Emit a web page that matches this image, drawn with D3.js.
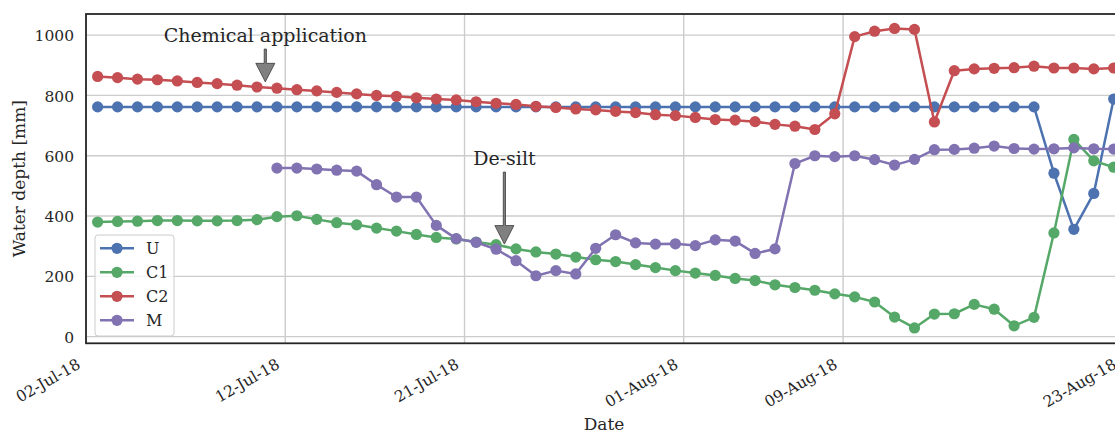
<!DOCTYPE html>
<html>
<head>
<meta charset="utf-8">
<script src="https://cdn.jsdelivr.net/npm/d3@7"></script>
<style>
  body { margin: 0; background: #fff; }
  svg { display: block; font-family: "DejaVu Serif", serif; }
</style>
</head>
<body>
<div id="chart-area"></div>
<script>
// daily readings, taken around 14:00
const dates = [
  "2018-07-02","2018-07-03","2018-07-04","2018-07-05","2018-07-06","2018-07-07","2018-07-08",
  "2018-07-09","2018-07-10","2018-07-11","2018-07-12","2018-07-13","2018-07-14","2018-07-15",
  "2018-07-16","2018-07-17","2018-07-18","2018-07-19","2018-07-20","2018-07-21","2018-07-22",
  "2018-07-23","2018-07-24","2018-07-25","2018-07-26","2018-07-27","2018-07-28","2018-07-29",
  "2018-07-30","2018-07-31","2018-08-01","2018-08-02","2018-08-03","2018-08-04","2018-08-05",
  "2018-08-06","2018-08-07","2018-08-08","2018-08-09","2018-08-10","2018-08-11","2018-08-12",
  "2018-08-13","2018-08-14","2018-08-15","2018-08-16","2018-08-17","2018-08-18","2018-08-19",
  "2018-08-20","2018-08-21","2018-08-22"
];

const seriesNames = ["U", "C1", "C2", "M"];

const depthU = [
  762,762,762,762,762,762,762,762,762,762,762,762,762,762,762,762,762,762,762,762,
  762,762,762,762,762,762,762,762,762,762,762,762,762,762,762,762,762,762,762,762,
  762,762,762,762,762,762,762,762,542,356,475,788
];

const depthC1 = [
  380,382,383,385,385,384,384,385,388,398,401,389,378,371,360,350,339,329,324,314,
  305,291,281,274,264,255,249,239,229,219,211,203,193,186,172,163,154,142,132,115,
  65,29,75,76,107,91,36,64,344,654,583,562
];

const depthC2 = [
  863,859,854,852,848,843,839,834,828,824,819,815,810,805,800,797,792,788,785,779,
  774,770,764,760,755,752,747,743,736,733,727,720,718,713,704,698,687,739,995,1013,
  1022,1019,712,882,888,890,892,897,891,891,888,891
];

const depthM = [
  null,null,null,null,null,null,null,null,null,559,559,556,552,549,504,463,463,369,325,313,
  290,252,202,219,208,293,338,311,307,308,302,321,317,276,291,574,600,597,600,587,
  569,588,620,621,625,632,624,622,623,626,623,622
];

const xTickDates = ["2018-07-02","2018-07-12","2018-07-21","2018-08-01","2018-08-09","2018-08-23"];
const yTickValues = [0, 200, 400, 600, 800, 1000];

const noteLabels = ["Chemical application", "De-silt"];
const noteDates = ["2018-07-11", "2018-07-23"];
const noteTips = [845, 307];
const noteTextAt = [978, 570];

const colors = ["#4c72b0", "#55a868", "#c44e52", "#8172b2"];

let margin = { left: 86, top: 14 };
let svgW = 1115;
let svgH = 433;
let chartW = 1122 - margin.left;   // axes run a little past the window edge
let chartH = 343.3 - margin.top;

const parseDay = d3.timeParse("%Y-%m-%d");
const readTime = (s) => d3.timeHour.offset(parseDay(s), 14);

const x = d3.scaleTime()
  .domain([parseDay("2018-07-02"), parseDay("2018-08-23")])
  .range([0, chartW]);

const y = d3.scaleLinear()
  .domain([-22, 1070])
  .range([chartH, 0]);

const series = [depthU, depthC1, depthC2, depthM].map((vals, k) => ({
  name: seriesNames[k],
  color: colors[k],
  values: vals.map((v, i) => ({ date: readTime(dates[i]), v: v }))
}));

let svg = d3.select("#chart-area")
  .append("svg")
  .attr("width", svgW)
  .attr("height", svgH);

svg.append("defs").append("clipPath")
  .attr("id", "plot-clip")
  .append("rect")
  .attr("width", chartW)
  .attr("height", chartH);

let group = svg.append("g")
  .attr("transform", `translate(${margin.left},${margin.top})`);

// grid
group.append("g")
  .selectAll("line")
  .data(yTickValues)
  .join("line")
  .attr("x1", 0).attr("x2", chartW)
  .attr("y1", d => y(d)).attr("y2", d => y(d))
  .attr("stroke", "#cccccc")
  .attr("stroke-width", 1.4);

group.append("g")
  .selectAll("line")
  .data(xTickDates)
  .join("line")
  .attr("x1", d => x(parseDay(d))).attr("x2", d => x(parseDay(d)))
  .attr("y1", 0).attr("y2", chartH)
  .attr("stroke", "#cccccc")
  .attr("stroke-width", 1.4);

// axes
let groupX = group.append("g")
  .attr("transform", `translate(0, ${chartH})`)
  .call(d3.axisBottom(x)
    .tickValues(xTickDates.map(parseDay))
    .tickFormat(d3.timeFormat("%d-%b-%y"))
    .tickSize(0));
groupX.select(".domain").remove();
groupX.attr("font-size", 15.5).attr("font-family", "DejaVu Serif").attr("color", "#262626");
groupX.selectAll("text")
  .attr("x", 0).attr("y", 0).attr("dy", 0)
  .attr("text-anchor", "end")
  .attr("transform", "translate(-5, 24) rotate(-30)");

let groupY = group.append("g")
  .call(d3.axisLeft(y).tickValues(yTickValues).tickFormat(d3.format("d")).tickSize(0).tickPadding(12));
groupY.select(".domain").remove();
groupY.attr("font-size", 15.5).attr("font-family", "DejaVu Serif").attr("color", "#262626");
groupY.selectAll("text").attr("dy", "0.36em");

// series
const line = d3.line()
  .defined(d => d.v != null)
  .x(d => x(d.date))
  .y(d => y(d.v));

let plot = group.append("g").attr("clip-path", "url(#plot-clip)");

series.forEach(s => {
  let g = plot.append("g");
  g.append("path")
    .datum(s.values)
    .attr("d", line)
    .attr("fill", "none")
    .attr("stroke", s.color)
    .attr("stroke-width", 2.5)
    .attr("stroke-linejoin", "round");
  g.selectAll("circle")
    .data(s.values.filter(d => d.v != null))
    .join("circle")
    .attr("cx", d => x(d.date))
    .attr("cy", d => y(d.v))
    .attr("r", 5.6)
    .attr("fill", s.color);
});

// frame
group.append("rect")
  .attr("width", chartW)
  .attr("height", chartH)
  .attr("fill", "none")
  .attr("stroke", "#262626")
  .attr("stroke-width", 1.8);

// annotations
noteLabels.forEach((label, k) => {
  let ax = x(parseDay(noteDates[k]));
  let tipY = y(noteTips[k]);
  let textY = y(noteTextAt[k]);
  let topY = textY + 7.3;
  let headY = tipY - 18.5;
  let pts = [
    [ax - 1.1, topY], [ax + 1.1, topY], [ax + 1.1, headY], [ax + 9.5, headY],
    [ax, tipY], [ax - 9.5, headY], [ax - 1.1, headY]
  ];
  group.append("polygon")
    .attr("points", pts.map(p => p.join(",")).join(" "))
    .attr("fill", "#808080")
    .attr("stroke", "#3a3a3a")
    .attr("stroke-width", 0.8);
  group.append("text")
    .attr("x", ax)
    .attr("y", textY)
    .attr("text-anchor", "middle")
    .attr("font-size", 19)
    .attr("fill", "#262626")
    .text(label);
});

// legend
let legend = group.append("g")
  .attr("transform", `translate(${95 - margin.left},${235 - margin.top})`);

legend.append("rect")
  .attr("width", 79)
  .attr("height", 101)
  .attr("rx", 3)
  .attr("fill", "#fff")
  .attr("fill-opacity", 0.8)
  .attr("stroke", "#cccccc")
  .attr("stroke-width", 1);

let items = legend.selectAll("g.item")
  .data(series)
  .join("g")
  .attr("class", "item")
  .attr("transform", (d, i) => `translate(0, ${13.3 + i * 24})`);

items.append("line")
  .attr("x1", 5).attr("x2", 39)
  .attr("stroke", d => d.color)
  .attr("stroke-width", 2.5);
items.append("circle")
  .attr("cx", 22)
  .attr("r", 5.6)
  .attr("fill", d => d.color);
items.append("text")
  .attr("x", 51)
  .attr("dy", "0.36em")
  .attr("font-size", 16)
  .attr("fill", "#262626")
  .text(d => d.name);

// axis titles
svg.append("text")
  .attr("x", margin.left + chartW / 2)
  .attr("y", 430)
  .attr("text-anchor", "middle")
  .attr("font-size", 17)
  .attr("fill", "#262626")
  .text("Date");

svg.append("text")
  .attr("transform", `translate(25, ${margin.top + chartH / 2}) rotate(-90)`)
  .attr("text-anchor", "middle")
  .attr("font-size", 17)
  .attr("fill", "#262626")
  .text("Water depth [mm]");
</script>
</body>
</html>
